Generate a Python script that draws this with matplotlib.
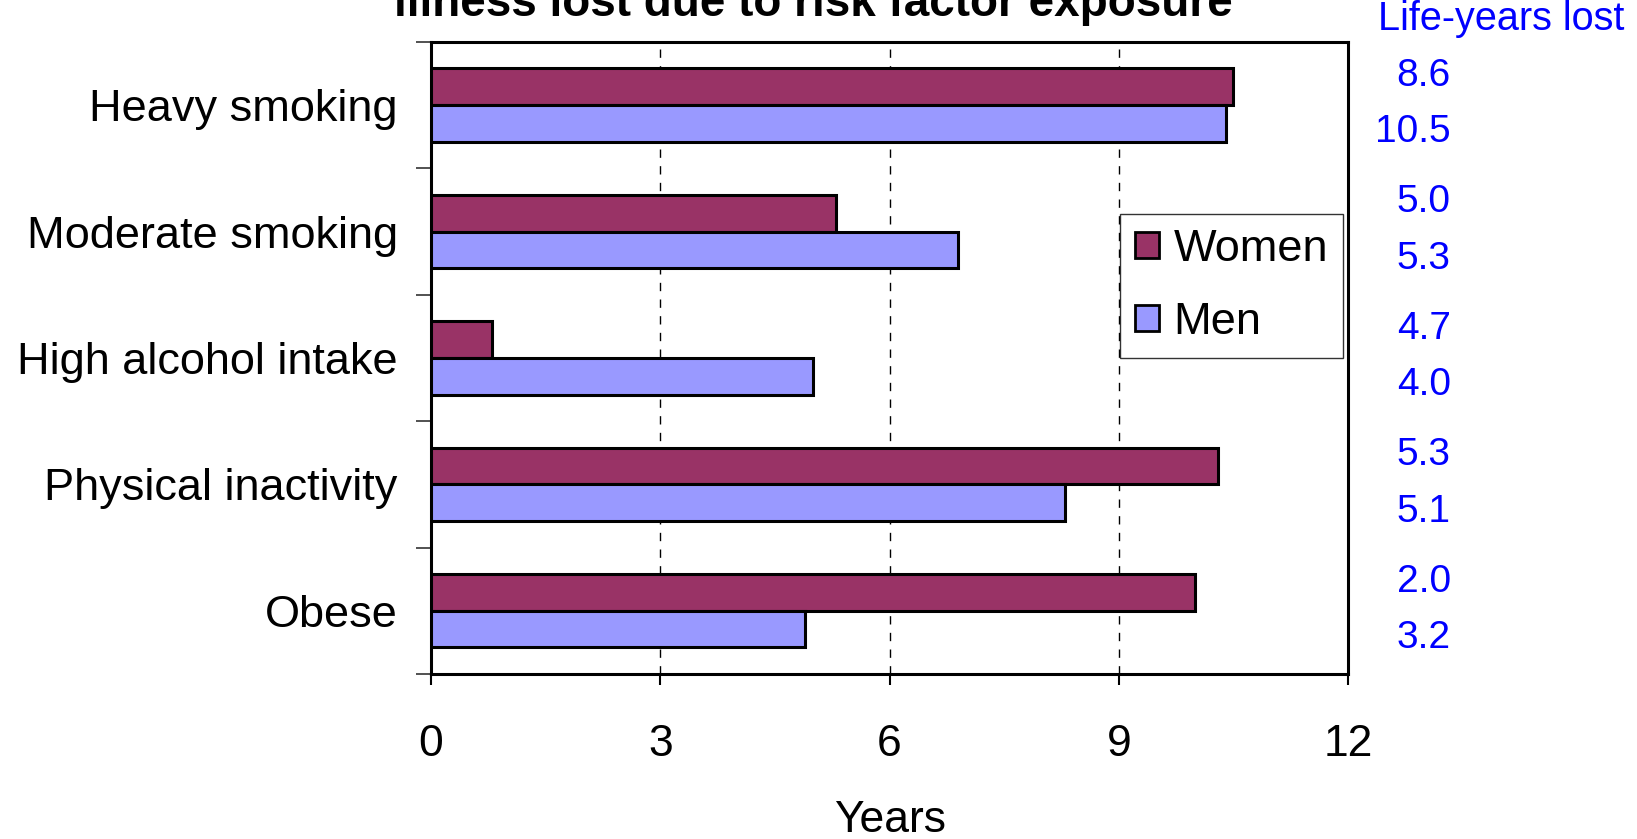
import numpy as np
import matplotlib
matplotlib.use("Agg")
import matplotlib.pyplot as plt
from matplotlib.ticker import FixedLocator

plt.rcParams["font.family"] = ["Liberation Sans", "DejaVu Sans"]

# data
categories = ["Heavy smoking", "Moderate smoking", "High alcohol intake",
              "Physical inactivity", "Obese"]
women_years = [10.5, 5.3, 0.8, 10.3, 10.0]
men_years = [10.4, 6.9, 5.0, 8.3, 4.9]
women_life_lost = ["8.6", "5.0", "4.7", "5.3", "2.0"]
men_life_lost = ["10.5", "5.3", "4.0", "5.1", "3.2"]
x_ticks = [0, 3, 6, 9, 12]

women_color = "#993366"
men_color = "#9999FF"
blue = "#0000FF"

fig = plt.figure(figsize=(16.37, 8.39), dpi=100)
ax = fig.add_axes([0.2633, 0.1967, 0.5602, 0.7533])

y = np.arange(len(categories))
h = 0.29
ax.barh(y - h / 2, women_years, height=h, color=women_color,
        edgecolor="black", linewidth=2.2, label="Women", zorder=3)
ax.barh(y + h / 2, men_years, height=h, color=men_color,
        edgecolor="black", linewidth=2.2, label="Men", zorder=3)

ax.set_xlim(0, 12)
ax.set_ylim(len(categories) - 0.5, -0.5)
ax.set_xticks(x_ticks)
ax.set_xticklabels([str(t) for t in x_ticks], fontsize=32)
ax.tick_params(axis="x", direction="out", length=8, width=1.5, pad=28)

ax.set_yticks(y)
ax.set_yticklabels(categories, fontsize=32.5)
ax.tick_params(axis="y", which="major", length=0, pad=24)
ax.yaxis.set_minor_locator(FixedLocator(np.arange(-0.5, len(categories), 1.0)))
ax.tick_params(axis="y", which="minor", direction="out", length=11, width=1.2,
               color="#333333")

for t in x_ticks[1:-1]:
    ax.axvline(t, color="black", linewidth=1, linestyle=(0, (6, 6)), zorder=1)

for s in ax.spines.values():
    s.set_linewidth(2.2)
    s.set_color("black")

ax.set_xlabel("Years", fontsize=32, labelpad=25)

leg = ax.legend(loc="upper left", bbox_to_anchor=(0.751, 0.728),
                borderaxespad=0, fontsize=32.5, frameon=True, fancybox=False,
                handlelength=0.52, handleheight=0.52, handletextpad=0.33,
                labelspacing=0.7, borderpad=0.34)
leg.get_frame().set_edgecolor("black")
leg.get_frame().set_linewidth(1)
for p in leg.get_patches():
    p.set_linewidth(2)

# right-hand life-years lost column
ax.text(1.033, 1.036, "Life-years lost", transform=ax.transAxes,
        color=blue, fontsize=28.5, ha="left", va="center")
trans = ax.get_yaxis_transform()
for i in range(len(categories)):
    ax.text(1.112, i - 0.23, women_life_lost[i], transform=trans,
            color=blue, fontsize=28, ha="right", va="center")
    ax.text(1.112, i + 0.215, men_life_lost[i], transform=trans,
            color=blue, fontsize=28, ha="right", va="center")

# title, top line falls outside the picture as in the source
fig.text(0.497, 0.981, "illness lost due to risk factor exposure",
         fontsize=33, fontweight="bold", ha="center", va="baseline")

fig.savefig("out.png", dpi=100)
